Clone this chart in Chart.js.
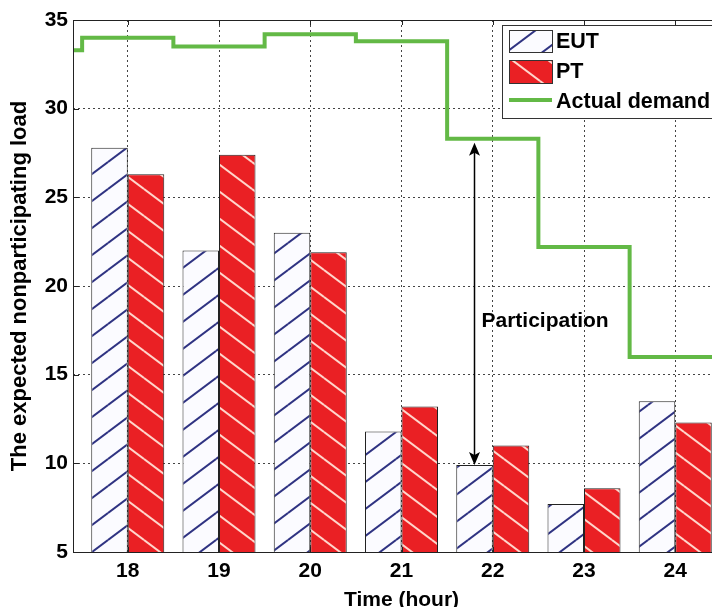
<!DOCTYPE html>
<html>
<head>
<meta charset="utf-8">
<script src="https://cdn.jsdelivr.net/npm/chart.js@4"></script>
<style>
  html, body { margin: 0; padding: 0; background: #fff; overflow: hidden; }
</style>
</head>
<body>
<canvas id="chart" width="745" height="607"></canvas>
<script>
const hours = [18, 19, 20, 21, 22, 23, 24];
const eut = [27.8, 22.0, 23.0, 11.8, 9.9, 7.7, 13.5];
const pt = [26.3, 27.4, 21.9, 13.2, 11.0, 8.6, 12.3];
// actual demand, one level per hour (17 is the hour before the window)
const demandHours = [17, 18, 19, 20, 21, 22, 23, 24];
const demand = [33.3, 34.0, 33.5, 34.2, 33.8, 28.3, 22.2, 16.0];
const yTicks = [5, 10, 15, 20, 25, 30, 35];

const FONT = '"Liberation Sans", Arial, sans-serif';
const GREEN = '#63b946';

// hatch fills
function hatch(bg, fg, rising) {
  const w = 36, h = 27;
  const c = document.createElement('canvas');
  c.width = w; c.height = h;
  const g = c.getContext('2d');
  g.fillStyle = bg;
  g.fillRect(0, 0, w, h);
  g.strokeStyle = fg;
  g.lineWidth = 2;
  for (let dx = -w; dx <= w; dx += w) {
    for (let dy = -h; dy <= h; dy += h) {
      g.beginPath();
      if (rising) { g.moveTo(dx, h + dy); g.lineTo(w + dx, dy); }
      else { g.moveTo(dx, dy); g.lineTo(w + dx, h + dy); }
      g.stroke();
    }
  }
  return g.createPattern(c, 'repeat');
}
const eutFill = hatch('#fbfbff', '#2f3382', true);
const ptFill = hatch('#ea2024', '#ffd6cc', false);

// stairs: each hour holds its level from h-0.5 to h+0.5
const stairs = demandHours.map((h, i) => ({ x: h - 0.5, y: demand[i] }));
stairs.push({ x: demandHours[demandHours.length - 1] + 1, y: demand[demand.length - 1] });

const extras = {
  id: 'extras',
  afterDatasetsDraw(chart) {
    const { ctx, chartArea: a, scales: { x, y } } = chart;
    ctx.save();

    // axes box + inward ticks
    ctx.strokeStyle = '#222';
    ctx.lineWidth = 1;
    ctx.strokeRect(a.left + 0.5, a.top + 0.5, a.right - a.left, a.bottom - a.top);
    ctx.beginPath();
    hours.forEach(h => {
      const px = Math.round(x.getPixelForValue(h)) + 0.5;
      ctx.moveTo(px, a.bottom); ctx.lineTo(px, a.bottom - 5);
      ctx.moveTo(px, a.top); ctx.lineTo(px, a.top + 5);
    });
    yTicks.forEach(v => {
      const py = Math.round(y.getPixelForValue(v)) + 0.5;
      ctx.moveTo(a.left, py); ctx.lineTo(a.left + 6, py);
    });
    ctx.stroke();

    // participation arrow at hour 22
    const i = hours.indexOf(22);
    const ax = chart.getDatasetMeta(0).data[i].x;
    const yTop = y.getPixelForValue(demand[demandHours.indexOf(22)]) + 4;
    const yBot = y.getPixelForValue(eut[i]);
    ctx.strokeStyle = '#000';
    ctx.fillStyle = '#000';
    ctx.lineWidth = 1.5;
    ctx.beginPath();
    ctx.moveTo(ax, yTop + 8); ctx.lineTo(ax, yBot - 8);
    ctx.stroke();
    [[yTop, 1], [yBot, -1]].forEach(([t, d]) => {
      ctx.beginPath();
      ctx.moveTo(ax, t);
      ctx.lineTo(ax - 5.5, t + 13 * d);
      ctx.lineTo(ax, t + 10 * d);
      ctx.lineTo(ax + 5.5, t + 13 * d);
      ctx.closePath();
      ctx.fill();
    });
    ctx.font = 'bold 21px ' + FONT;
    ctx.textAlign = 'left';
    ctx.textBaseline = 'middle';
    ctx.fillText('Participation', ax + 7, y.getPixelForValue(18));

    // legend
    const lx = a.left + 429, ly = a.top + 5;
    ctx.fillStyle = '#fff';
    ctx.fillRect(lx, ly, chart.width - lx + 5, 93);
    ctx.strokeStyle = '#333';
    ctx.lineWidth = 1;
    ctx.strokeRect(lx + 0.5, ly + 0.5, chart.width - lx + 5, 93);
    const sx = lx + 7, sw = 43;
    ctx.fillStyle = eutFill;
    ctx.fillRect(sx, ly + 5, sw, 22);
    ctx.strokeRect(sx + 0.5, ly + 5.5, sw, 22);
    ctx.fillStyle = ptFill;
    ctx.fillRect(sx, ly + 35, sw, 23);
    ctx.strokeRect(sx + 0.5, ly + 35.5, sw, 23);
    ctx.strokeStyle = GREEN;
    ctx.lineWidth = 4;
    ctx.beginPath();
    ctx.moveTo(sx, ly + 75); ctx.lineTo(sx + sw, ly + 75);
    ctx.stroke();
    ctx.fillStyle = '#000';
    ctx.font = 'bold 21.5px ' + FONT;
    const labels = chart.data.datasets.map(d => d.label);
    ctx.fillText(labels[0], sx + sw + 4, ly + 17);
    ctx.fillText(labels[1], sx + sw + 4, ly + 47);
    ctx.fillText(labels[2], sx + sw + 4, ly + 77);

    ctx.restore();
  }
};

new Chart(document.getElementById('chart'), {
  type: 'bar',
  data: {
    datasets: [
      {
        label: 'EUT',
        data: hours.map((h, i) => ({ x: h, y: eut[i] })),
        backgroundColor: eutFill,
        borderColor: '#222',
        borderWidth: 1
      },
      {
        label: 'PT',
        data: hours.map((h, i) => ({ x: h, y: pt[i] })),
        backgroundColor: ptFill,
        borderColor: '#222',
        borderWidth: 1
      },
      {
        type: 'line',
        label: 'Actual demand',
        data: stairs,
        borderColor: GREEN,
        borderWidth: 4,
        stepped: true,
        pointRadius: 0,
        fill: false
      }
    ]
  },
  options: {
    responsive: false,
    animation: false,
    layout: { padding: { top: 20, right: 15, left: 0, bottom: 0 } },
    categoryPercentage: 0.8,
    barPercentage: 1.0,
    plugins: { legend: { display: false }, tooltip: { enabled: false } },
    scales: {
      x: {
        type: 'linear',
        min: 17.4,
        max: 24.6,
        offset: false,
        afterBuildTicks: s => { s.ticks = hours.map(v => ({ value: v })); },
        afterFit: s => { s.height = 55; },
        grid: { color: '#444', lineWidth: 1, drawTicks: false, offset: false },
        border: { display: false, dash: [2, 3] },
        ticks: { color: '#000', padding: 7, font: { family: FONT, size: 21, weight: 'bold' } },
        title: {
          display: true, text: 'Time (hour)', color: '#000',
          padding: { top: 0, bottom: -6 },
          font: { family: FONT, size: 21, weight: 'bold' }
        }
      },
      y: {
        min: 5,
        max: 35,
        afterBuildTicks: s => { s.ticks = yTicks.map(v => ({ value: v })); },
        afterFit: s => { s.width = 73; },
        grid: { color: '#444', lineWidth: 1, drawTicks: false },
        border: { display: false, dash: [2, 3] },
        ticks: { color: '#000', padding: 5, font: { family: FONT, size: 21, weight: 'bold' } },
        title: {
          display: true, text: 'The expected nonparticipating load', color: '#000',
          padding: { top: 7, bottom: 0 },
          font: { family: FONT, size: 22, weight: 'bold' }
        }
      }
    }
  },
  plugins: [extras]
});
</script>
</body>
</html>
